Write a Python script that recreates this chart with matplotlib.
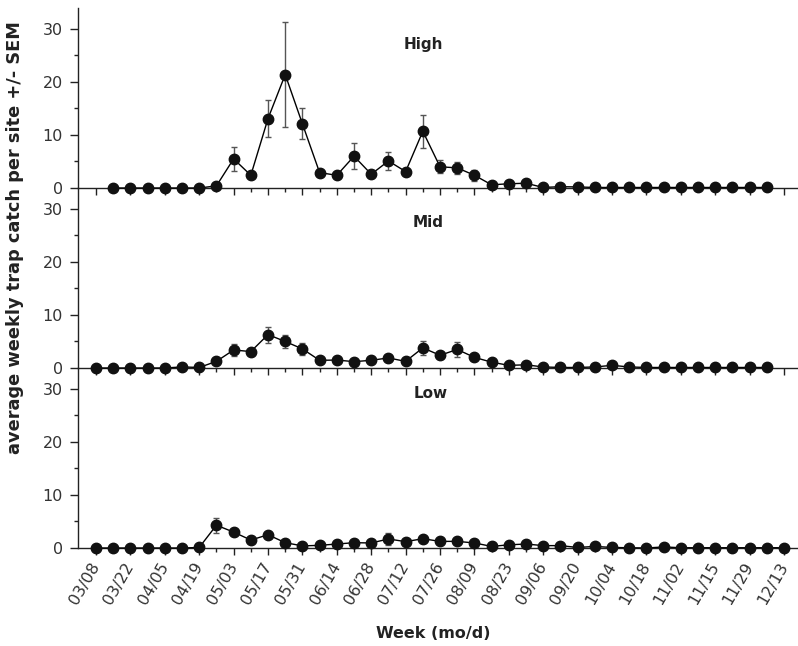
import numpy as np
import matplotlib
matplotlib.use("Agg")
import matplotlib.pyplot as plt
from matplotlib.ticker import MultipleLocator

plt.rcParams['font.family'] = ['DejaVu Sans']

week_labels = ["03/08", "03/22", "04/05", "04/19", "05/03", "05/17", "05/31",
               "06/14", "06/28", "07/12", "07/26", "08/09", "08/23", "09/06",
               "09/20", "10/04", "10/18", "11/02", "11/15", "11/29", "12/13"]

nan = np.nan
high_mean = [nan, 0, 0, 0, 0, 0, 0, 0.4, 5.5, 2.4, 13.1, 21.4, 12.1, 2.9, 2.4,
             6.0, 2.6, 5.1, 3.1, 10.7, 4.0, 3.8, 2.4, 0.6, 0.8, 0.9, 0.1, 0.25,
             0.2, 0.1, 0.1, 0.1, 0.1, 0.1, 0.1, 0.1, 0.1, 0.1, 0.1, 0.1, nan]
high_sem = [0, 0, 0, 0, 0, 0, 0, 0.1, 2.3, 0.5, 3.5, 9.9, 2.9, 0.3, 0.3,
            2.4, 0.8, 1.7, 0.6, 3.1, 1.2, 1.1, 1.0, 0.2, 0.2, 0.3, 0, 0,
            0, 0, 0, 0, 0, 0, 0, 0, 0, 0, 0, 0, 0]

mid_mean = [0, 0, 0, 0, 0, 0.2, 0.1, 1.25, 3.4, 3.1, 6.3, 5.0, 3.6, 1.45, 1.5,
            1.2, 1.45, 1.9, 1.25, 3.8, 2.4, 3.5, 2.0, 1.1, 0.5, 0.6, 0.2, 0.1,
            0.1, 0.2, 0.5, 0.2, 0.1, 0.1, 0.1, 0.1, 0.1, 0.1, 0.1, 0.1, nan]
mid_sem = [0, 0, 0, 0, 0, 0, 0, 0.3, 1.1, 0.7, 1.5, 1.3, 1.2, 0.2, 0.2,
           0.2, 0.2, 0.3, 0.2, 1.3, 0.7, 1.4, 0.4, 0.2, 0, 0, 0, 0,
           0, 0, 0, 0, 0, 0, 0, 0, 0, 0, 0, 0, 0]

low_mean = [0, 0, 0, 0, 0, 0, 0.1, 4.3, 3.0, 1.5, 2.5, 1.0, 0.4, 0.5, 0.75,
            1.0, 0.95, 1.7, 1.2, 1.75, 1.25, 1.25, 0.95, 0.3, 0.6, 0.75, 0.45,
            0.45, 0.1, 0.3, 0.1, 0.05, 0, 0.2, 0.05, 0.05, 0.05, 0.05, 0.05,
            0.05, 0.05]
low_sem = [0, 0, 0, 0, 0, 0, 0, 1.4, 0.6, 0.2, 0.6, 0.2, 0, 0, 0,
           0.1, 0.1, 1.2, 0.3, 0.5, 0.2, 0, 0, 0, 0, 0, 0, 0,
           0, 0, 0, 0, 0, 0, 0, 0, 0, 0, 0, 0, 0]

panel_names = ["High", "Mid", "Low"]
panel_means = [high_mean, mid_mean, low_mean]
panel_sems = [high_sem, mid_sem, low_sem]

W, H = 798, 646
fig = plt.figure(figsize=(W / 100, H / 100), dpi=100)

x = np.arange(41)
left_px = 78
panel_h = 180
bottoms_px = [188, 368, 548]  # y pixel of zero line for each panel
title_pos = [(0.48, 0.80), (0.486, 0.81), (0.49, 0.86)]
tick_col = '#333333'
dark = '#222222'

for i, (name, m, s) in enumerate(zip(panel_names, panel_means, panel_sems)):
    b = bottoms_px[i]
    ax = fig.add_axes([left_px / W, (H - b) / H, (W - left_px) / W, panel_h / H])
    m = np.array(m, dtype=float)
    s = np.array(s, dtype=float)
    ax.errorbar(x, m, yerr=s, fmt='none', ecolor='#555555', elinewidth=1.0,
                capsize=2.5, capthick=1.0, clip_on=False, zorder=2)
    ax.plot(x, m, '-', color='black', lw=1.0, marker='o', ms=7.5,
            mfc='#111111', mec='#111111', clip_on=False, zorder=3)
    ax.set_xlim(-1.047, 40.81)
    ax.set_ylim(0, 33.96)
    ax.patch.set_alpha(0)
    for sp in ['top', 'right']:
        ax.spines[sp].set_visible(False)
    for sp in ['left', 'bottom']:
        ax.spines[sp].set_linewidth(1.0)
        ax.spines[sp].set_color(dark)
    ax.yaxis.set_major_locator(MultipleLocator(10))
    ax.yaxis.set_minor_locator(MultipleLocator(5))
    ax.set_xticks(np.arange(0, 41, 2))
    ax.set_xticks(np.arange(1, 41, 2), minor=True)
    ax.tick_params(axis='y', which='major', direction='out', length=6,
                   width=1.0, labelsize=11.5, labelcolor=tick_col, color=dark, pad=5)
    ax.tick_params(axis='y', which='minor', direction='out', length=3,
                   width=1.0, color=dark)
    ax.tick_params(axis='x', which='major', direction='out', length=5,
                   width=1.0, color=dark, pad=6)
    ax.tick_params(axis='x', which='minor', direction='out', length=3,
                   width=1.0, color=dark)
    if i < 2:
        ax.set_xticklabels([])
    else:
        ax.set_xticklabels(week_labels, rotation=60, ha='right', va='center',
                           rotation_mode='anchor', fontsize=11.5, color=tick_col)
    ax.text(title_pos[i][0], title_pos[i][1], name, transform=ax.transAxes,
            ha='center', va='center', fontsize=11, fontweight='bold', color=dark)

fig.text(433 / W, 1 - 634 / H, "Week (mo/d)", ha='center', va='center',
         fontsize=11.5, fontweight='bold', color=dark)
fig.text(15 / W, 1 - 238 / H, "average weekly trap catch per site +/- SEM",
         rotation=90, ha='center', va='center', fontsize=12.8,
         fontweight='bold', color=dark)

fig.savefig("out.png", dpi=100)
